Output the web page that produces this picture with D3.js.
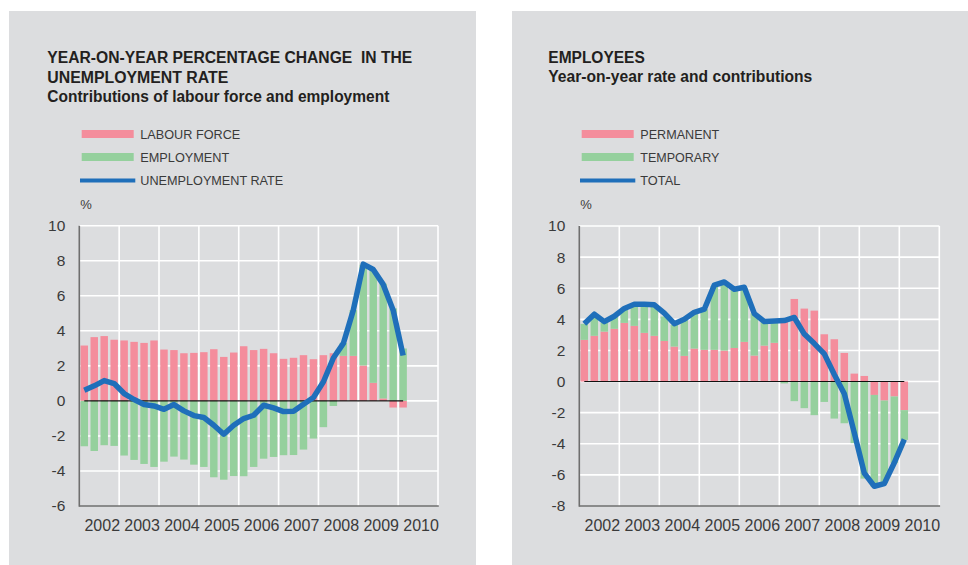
<!DOCTYPE html>
<html>
<head>
<meta charset="utf-8">
<script src="https://cdn.jsdelivr.net/npm/d3@7"></script>
<style>
  html, body { margin: 0; padding: 0; background: #ffffff; }
  svg { display: block; font-family: "Liberation Sans", Arial, sans-serif; }
</style>
</head>
<body>
<svg id="chart" width="968" height="565"></svg>
<script>
// Quarterly observations, 2002 Q1 to 2010 Q1
const quarters = [
  "2002Q1","2002Q2","2002Q3","2002Q4","2003Q1","2003Q2","2003Q3","2003Q4",
  "2004Q1","2004Q2","2004Q3","2004Q4","2005Q1","2005Q2","2005Q3","2005Q4",
  "2006Q1","2006Q2","2006Q3","2006Q4","2007Q1","2007Q2","2007Q3","2007Q4",
  "2008Q1","2008Q2","2008Q3","2008Q4","2009Q1","2009Q2","2009Q3","2009Q4",
  "2010Q1"
];
const yearLabels = [2002, 2003, 2004, 2005, 2006, 2007, 2008, 2009, 2010];

// Unemployment rate: contributions of labour force and employment (percentage points)
const labourForce = [
  3.16, 3.64, 3.70, 3.49, 3.45, 3.37, 3.31, 3.45, 2.93, 2.90, 2.72, 2.74,
  2.78, 2.95, 2.51, 2.76, 3.12, 2.90, 2.97, 2.72, 2.40, 2.46, 2.61, 2.38,
  2.61, 2.72, 2.57, 2.57, 2.02, 1.03, 0.14, -0.38, -0.38
];
const employment = [
  -2.59, -2.86, -2.53, -2.57, -3.12, -3.37, -3.60, -3.77, -3.47, -3.18, -3.35, -3.64,
  -3.77, -4.36, -4.50, -4.29, -4.30, -3.77, -3.30, -3.20, -3.10, -3.09, -2.78, -2.15,
  -1.50, -0.29, 0.74, 2.61, 5.75, 6.44, 6.55, 5.28, 2.99
];
const unemploymentRate = [
  0.61, 0.86, 1.16, 0.99, 0.42, 0.08, -0.21, -0.29, -0.48, -0.21, -0.57, -0.84,
  -0.95, -1.39, -1.90, -1.39, -1.01, -0.82, -0.25, -0.40, -0.61, -0.59, -0.19, 0.19,
  1.09, 2.45, 3.28, 5.18, 7.81, 7.50, 6.65, 5.18, 2.59
];
const leftTicks = [-6, -4, -2, 0, 2, 4, 6, 8, 10];

// Employees: year-on-year rate and contributions of permanent and temporary
const permanent = [
  2.68, 2.94, 3.21, 3.39, 3.77, 3.58, 3.13, 2.94, 2.61, 2.25, 1.65, 2.12,
  2.04, 2.04, 1.99, 2.16, 2.55, 1.67, 2.31, 2.49, 4.00, 5.31, 4.69, 4.56,
  3.04, 2.72, 1.84, 0.51, 0.36, -0.86, -1.22, -0.96, -1.84
];
const temporary = [
  1.03, 1.24, 0.58, 0.79, 0.88, 1.35, 1.80, 1.88, 1.57, 1.39, 2.31, 2.27,
  2.61, 4.11, 4.37, 3.73, 3.45, 2.72, 1.55, 1.37, -0.12, -1.26, -1.71, -2.16,
  -1.31, -2.38, -2.68, -3.96, -6.24, -5.89, -5.31, -4.29, -1.91
];
const totalEmployees = [
  3.72, 4.33, 3.85, 4.20, 4.70, 4.97, 4.97, 4.93, 4.40, 3.72, 4.00, 4.45,
  4.65, 6.20, 6.40, 5.93, 6.06, 4.37, 3.86, 3.90, 3.92, 4.12, 3.05, 2.44,
  1.78, 0.45, -0.78, -3.30, -5.89, -6.73, -6.56, -5.22, -3.72
];
const rightTicks = [-8, -6, -4, -2, 0, 2, 4, 6, 8, 10];

const COLORS = {
  panel: "#dcdddf",
  pink: "#f48d9c",
  green: "#95d09d",
  blue: "#1f6fba",
  grid: "#ffffff",
  axis: "#6f6f6f",
  title: "#231f20",
  text: "#3a3a3a"
};

const svg = d3.select("#chart");

function drawPanel(cfg) {
  const g = svg.append("g");

  // panel background
  g.append("rect")
    .attr("x", cfg.panel[0]).attr("y", cfg.panel[1])
    .attr("width", cfg.panel[2]).attr("height", cfg.panel[3])
    .attr("fill", COLORS.panel);

  // titles
  cfg.titles.forEach(t => {
    g.append("text")
      .attr("x", cfg.titleX).attr("y", t.y)
      .attr("font-size", 16).attr("font-weight", "bold")
      .attr("fill", COLORS.title)
      .attr("textLength", t.w).attr("lengthAdjust", "spacingAndGlyphs")
      .style("white-space", "pre")
      .text(t.text);
  });

  // legend
  const lg = g.append("g");
  cfg.legend.forEach((item, i) => {
    const yMid = 134 + i * 23;
    if (item.type === "bar") {
      lg.append("rect")
        .attr("x", cfg.plot.left + 2.4).attr("y", yMid - 4)
        .attr("width", 52).attr("height", 8)
        .attr("fill", item.color);
    } else {
      lg.append("line")
        .attr("x1", cfg.plot.left + 0.7).attr("x2", cfg.plot.left + 56)
        .attr("y1", yMid + 0.5).attr("y2", yMid + 0.5)
        .attr("stroke", item.color).attr("stroke-width", 4);
    }
    lg.append("text")
      .attr("x", cfg.plot.left + 61).attr("y", yMid + 5)
      .attr("font-size", 13.5).attr("fill", COLORS.text)
      .attr("textLength", item.w).attr("lengthAdjust", "spacingAndGlyphs")
      .text(item.label);
  });

  g.append("text")
    .attr("x", cfg.plot.left + 1).attr("y", 208.5)
    .attr("font-size", 13).attr("fill", COLORS.text)
    .text("%");

  // scales
  const p = cfg.plot;
  const y = d3.scaleLinear().domain(cfg.yDomain).range([p.bottom, p.top]);
  const xYear = d3.scaleLinear().domain([2002, 2011]).range([p.left, p.right]);
  const quarterW = (xYear(2003) - xYear(2002)) / 4;
  const xq = d3.scaleBand()
    .domain(quarters)
    .range([xYear(2002), xYear(2002) + quarters.length * quarterW])
    .paddingInner(0.25).paddingOuter(0.125);
  const cx = q => xq(q) + xq.bandwidth() / 2;

  // grid
  const grid = g.append("g").attr("stroke", COLORS.grid).attr("stroke-width", 1.6);
  grid.selectAll("line.h").data(cfg.ticks.filter(t => t !== cfg.yDomain[0]))
    .join("line").attr("class", "h")
    .attr("x1", p.left).attr("x2", p.right)
    .attr("y1", d => y(d)).attr("y2", d => y(d));
  grid.selectAll("line.v").data(d3.range(2003, 2012))
    .join("line").attr("class", "v")
    .attr("x1", d => xYear(d)).attr("x2", d => xYear(d))
    .attr("y1", p.top).attr("y2", p.bottom);

  // stacked contributions (positive and negative parts stacked separately)
  const rows = quarters.map((q, i) => ({ q, a: cfg.seriesA[i], b: cfg.seriesB[i] }));
  const stacked = d3.stack().keys(["a", "b"]).offset(d3.stackOffsetDiverging)(rows);
  const barColors = { a: COLORS.pink, b: COLORS.green };
  g.append("g").selectAll("g").data(stacked).join("g")
    .attr("fill", d => barColors[d.key])
    .selectAll("rect").data(d => d).join("rect")
      .attr("x", d => xq(d.data.q))
      .attr("width", xq.bandwidth())
      .attr("y", d => y(Math.max(d[0], d[1])))
      .attr("height", d => Math.abs(y(d[0]) - y(d[1])));

  // zero line
  g.append("line")
    .attr("x1", cx(quarters[0])).attr("x2", cx(quarters[quarters.length - 1]))
    .attr("y1", y(0)).attr("y2", y(0))
    .attr("stroke", "#111").attr("stroke-width", 1.1);

  // total line
  const line = d3.line().x((d, i) => cx(quarters[i])).y(d => y(d));
  g.append("path")
    .datum(cfg.lineValues)
    .attr("d", line)
    .attr("fill", "none")
    .attr("stroke", COLORS.blue)
    .attr("stroke-width", 5.5)
    .attr("stroke-linejoin", "round");

  // axes
  const yAxis = d3.axisLeft(y).tickValues(cfg.ticks).tickSize(0).tickPadding(14)
    .tickFormat(d => d < 0 ? "-" + Math.abs(d) : String(d));
  const ya = g.append("g").attr("transform", `translate(${p.left},0)`).call(yAxis);
  ya.select(".domain").remove();
  ya.selectAll("text").attr("font-size", 15.5).attr("fill", COLORS.text)
    .attr("font-family", "Liberation Sans, Arial, sans-serif");

  const xAxis = d3.axisBottom(xYear).tickValues(yearLabels.map(v => v + 0.5))
    .tickSize(0).tickPadding(14).tickFormat(d => String(Math.floor(d)));
  const xa = g.append("g").attr("transform", `translate(2.5,${p.bottom})`).call(xAxis);
  xa.select(".domain").remove();
  xa.selectAll("text").attr("font-size", 16).attr("fill", COLORS.text)
    .attr("font-family", "Liberation Sans, Arial, sans-serif");

  g.append("line")
    .attr("x1", p.left).attr("x2", p.left)
    .attr("y1", p.top).attr("y2", p.bottom + 0.8)
    .attr("stroke", COLORS.axis).attr("stroke-width", 1.6);
  g.append("line")
    .attr("x1", p.left).attr("x2", p.right + 0.8)
    .attr("y1", p.bottom).attr("y2", p.bottom)
    .attr("stroke", COLORS.axis).attr("stroke-width", 1.6);
}

drawPanel({
  panel: [9, 11, 467, 554],
  titleX: 47.3,
  titles: [
    { text: "YEAR-ON-YEAR PERCENTAGE CHANGE  IN THE", y: 63.3, w: 365 },
    { text: "UNEMPLOYMENT RATE", y: 82.5, w: 181 },
    { text: "Contributions of labour force and employment", y: 102, w: 342 }
  ],
  legend: [
    { type: "bar", color: COLORS.pink, label: "LABOUR FORCE", w: 100 },
    { type: "bar", color: COLORS.green, label: "EMPLOYMENT", w: 89 },
    { type: "line", color: COLORS.blue, label: "UNEMPLOYMENT RATE", w: 143 }
  ],
  plot: { left: 79.3, right: 438, top: 225.7, bottom: 506 },
  yDomain: [-6, 10],
  ticks: leftTicks,
  seriesA: labourForce,
  seriesB: employment,
  lineValues: unemploymentRate
});

drawPanel({
  panel: [512, 11, 456, 554],
  titleX: 548.3,
  titles: [
    { text: "EMPLOYEES", y: 62.7, w: 96.5 },
    { text: "Year-on-year rate and contributions", y: 81.7, w: 264 }
  ],
  legend: [
    { type: "bar", color: COLORS.pink, label: "PERMANENT", w: 79 },
    { type: "bar", color: COLORS.green, label: "TEMPORARY", w: 79 },
    { type: "line", color: COLORS.blue, label: "TOTAL", w: 40 }
  ],
  plot: { left: 579.3, right: 939.3, top: 226, bottom: 506 },
  yDomain: [-8, 10],
  ticks: rightTicks,
  seriesA: permanent,
  seriesB: temporary,
  lineValues: totalEmployees
});
</script>
</body>
</html>
